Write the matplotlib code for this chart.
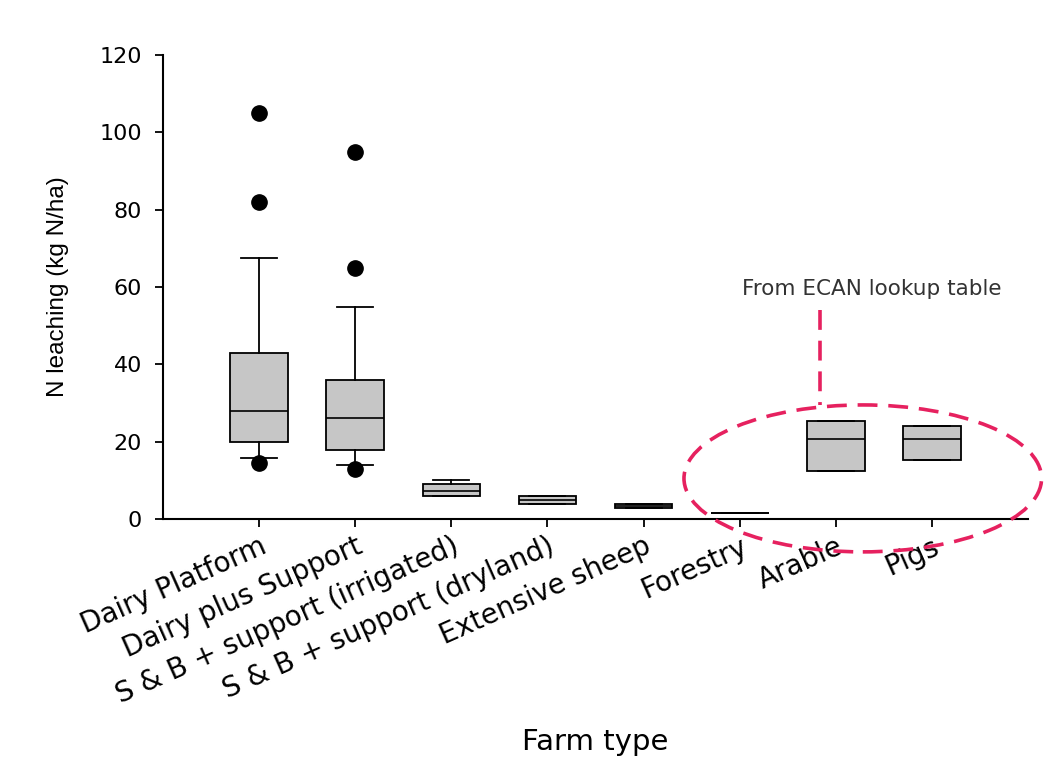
import matplotlib.pyplot as plt
from matplotlib.patches import Ellipse

# Farm types and box statistics (kg N/ha)
farm_types = ['Dairy Platform', 'Dairy plus Support', 'S & B + support (irrigated)',
              'S & B + support (dryland)', 'Extensive sheep', 'Forestry', 'Arable', 'Pigs']
q1 = [20.0, 17.9, 6.0, 3.8, 2.8, 1.5, 12.4, 15.3]
median = [28.0, 26.1, 7.2, 4.9, 3.3, 1.5, 20.7, 20.7]
q3 = [42.9, 36.0, 9.0, 6.0, 3.8, 1.5, 25.4, 24.1]
whisker_low = [15.7, 14.0, 6.0, 3.8, 2.8, 1.5, 12.4, 15.3]
whisker_high = [67.6, 54.7, 10.1, 6.0, 3.8, 1.5, 25.4, 24.1]
outliers = [[105.0, 82.0, 14.4], [95.0, 65.0, 12.9], [], [], [], [], [], []]

plt.rcParams['font.family'] = ['DejaVu Sans']

fig = plt.figure(figsize=(10.61, 7.72), dpi=100)
ax = fig.add_axes([0.1536, 0.3277, 0.969 - 0.1536, 0.9288 - 0.3277])

stats = []
for i in range(len(farm_types)):
    stats.append({'label': farm_types[i], 'q1': q1[i], 'med': median[i], 'q3': q3[i],
                  'whislo': whisker_low[i], 'whishi': whisker_high[i],
                  'fliers': outliers[i]})

positions = list(range(1, len(farm_types) + 1))
ax.bxp(stats, positions=positions, widths=0.6, capwidths=0.375, patch_artist=True,
       boxprops=dict(facecolor='#c6c6c6', edgecolor='black', linewidth=1.3),
       medianprops=dict(color='black', linewidth=1.2),
       whiskerprops=dict(color='black', linewidth=1.3),
       capprops=dict(color='black', linewidth=1.3),
       flierprops=dict(marker='o', markerfacecolor='black', markeredgecolor='black',
                       markersize=11, linestyle='none'))

ax.set_xlim(0, 9)
ax.set_ylim(0, 120)
ax.set_yticks([0, 20, 40, 60, 80, 100, 120])
ax.set_xticks(positions)
ax.set_xticklabels(farm_types, rotation=24, ha='right', va='top',
                   rotation_mode='anchor', fontsize=20)
ax.tick_params(axis='y', labelsize=16, direction='out', length=6, width=1.3, pad=9)
ax.tick_params(axis='x', direction='out', length=6, width=1.3)
ax.spines['top'].set_visible(False)
ax.spines['right'].set_visible(False)
ax.spines['left'].set_linewidth(1.5)
ax.spines['bottom'].set_linewidth(1.5)

ax.set_ylabel('N leaching (kg N/ha)', fontsize=17.5, family='Liberation Sans', labelpad=22)
ax.set_xlabel('Farm type', fontsize=21, va='top')
ax.xaxis.set_label_coords(0.5, -0.45)

# annotation: ellipse around the lookup-table values
pink = '#e6215f'
ell = Ellipse((7.28, 10.5), 3.72, 38.0, fill=False, edgecolor=pink, linewidth=2.6,
              linestyle=(0, (5.5, 3)), clip_on=False, zorder=5)
ax.add_patch(ell)
ax.plot([6.84, 6.84], [54.1, 29.5], color=pink, linewidth=2.6,
        linestyle=(0, (5.5, 3)), clip_on=False, zorder=5)
ax.text(7.37, 59.5, 'From ECAN lookup table', fontsize=15.5, color='#333333',
        ha='center', va='center')

fig.savefig('out.png', dpi=100)
